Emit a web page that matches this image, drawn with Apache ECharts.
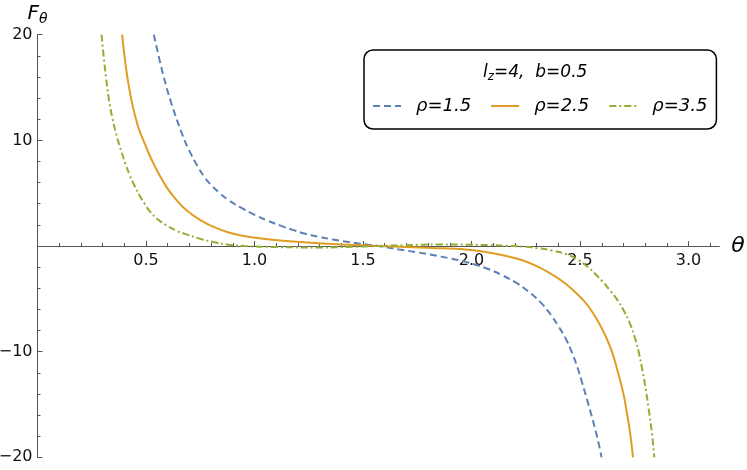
<!DOCTYPE html>
<html>
<head>
<meta charset="utf-8">
<script src="https://cdn.jsdelivr.net/npm/echarts@6/dist/echarts.min.js"></script>
<style>
  html, body { margin: 0; padding: 0; background: #fff; }
  #chart { width: 747px; height: 470px; }
</style>
</head>
<body>
<div id="chart"></div>
<script>
// values (theta, F_theta)
const theta15 = [0.536, 0.578, 0.617, 0.670, 0.700, 0.739, 0.770, 0.801, 0.840, 0.877, 0.940, 1.000, 1.060, 1.123, 1.180, 1.230, 1.300, 1.360, 1.440, 1.514, 1.571,
  1.667, 1.745, 1.820, 1.900, 1.973, 2.030, 2.080, 2.140, 2.203, 2.265, 2.326, 2.365, 2.402, 2.435, 2.463, 2.488, 2.509, 2.533, 2.555, 2.578, 2.599];
const f15 = [20, 16.3, 13.5, 10.4, 9.0, 7.5, 6.5, 5.75, 5.0, 4.4, 3.6, 2.95, 2.4, 1.9, 1.5, 1.18, 0.85, 0.62, 0.35, 0.15, 0,
  -0.33, -0.58, -0.85, -1.17, -1.5, -1.85, -2.2, -2.75, -3.45, -4.35, -5.5, -6.5, -7.65, -8.8, -10.1, -11.5, -12.9, -14.6, -16.2, -18.0, -20];

const theta25 = [0.390, 0.403, 0.417, 0.432, 0.450, 0.470, 0.486, 0.510, 0.532, 0.560, 0.594, 0.630, 0.670, 0.710, 0.747, 0.801, 0.877, 0.950, 1.031, 1.130, 1.230, 1.400, 1.571,
  1.820, 1.973, 2.080, 2.160, 2.234, 2.310, 2.387, 2.435, 2.479, 2.520, 2.555, 2.590, 2.617, 2.647, 2.678, 2.700, 2.716, 2.730, 2.744];
const f25 = [20, 17.6, 15.6, 13.9, 12.3, 10.9, 10.1, 8.9, 7.9, 6.8, 5.6, 4.6, 3.7, 3.0, 2.5, 1.9, 1.3, 0.95, 0.70, 0.50, 0.35, 0.15, 0,
  -0.18, -0.33, -0.62, -0.95, -1.35, -2.0, -2.9, -3.6, -4.4, -5.25, -6.2, -7.4, -8.5, -10.0, -12.2, -14.0, -15.8, -17.6, -20];

const theta35 = [0.295, 0.305, 0.316, 0.328, 0.345, 0.364, 0.387, 0.405, 0.425, 0.447, 0.471, 0.495, 0.517, 0.555, 0.594, 0.640, 0.686, 0.747, 0.816, 0.880, 0.954,
  1.100, 1.300, 1.450, 1.571, 1.700, 1.850, 2.000, 2.080, 2.190, 2.250, 2.310, 2.370, 2.433, 2.490, 2.540, 2.575, 2.601, 2.640, 2.670, 2.700, 2.730, 2.755,
  2.772, 2.785, 2.800, 2.816, 2.830, 2.842];
const f35 = [20, 17.9, 15.9, 14.0, 12.1, 10.5, 8.9, 7.8, 6.7, 5.7, 4.75, 3.95, 3.3, 2.5, 1.95, 1.45, 1.1, 0.7, 0.35, 0.12, 0,
  -0.1, -0.14, -0.08, 0, 0.08, 0.14, 0.12, 0.08, 0, -0.08, -0.22, -0.42, -0.75, -1.3, -2.05, -2.75, -3.3, -4.25, -5.05, -6.05, -7.35, -8.85,
  -10.2, -11.5, -13.2, -15.4, -17.5, -20];

const names = ["ρ=1.5", "ρ=2.5", "ρ=3.5"];
const xTicks = [0.5, 1.0, 1.5, 2.0, 2.5, 3.0];

const font = "DejaVu Sans";
const pairs = (xs, ys) => xs.map((x, i) => [x, ys[i]]);

const chart = echarts.init(document.getElementById("chart"));

const lineSeries = (i, xs, ys, color, type) => ({
  name: names[i],
  type: "line",
  xAxisIndex: 0,
  yAxisIndex: 0,
  data: pairs(xs, ys),
  symbol: "none",
  smooth: 0.4,
  clip: true,
  color: color,
  lineStyle: { width: 2, type: type, color: color }
});

const option = {
  animation: false,
  backgroundColor: "#fff",
  grid: [
    { left: 37.5, right: 27.7, top: 34.7, bottom: 12.7, outerBoundsMode: "none" },
    // helper grid whose bottom edge sits on F=0, carries the theta tick labels
    { left: 37.5, right: 27.7, top: 34.7, bottom: 224, outerBoundsMode: "none" }
  ],
  title: {
    text: "{i|l}{sub|z}{i|=4,  b=0.5}",
    left: 478,
    top: 58,
    textStyle: {
      rich: {
        i: { fontFamily: font, fontStyle: "italic", fontWeight: "normal", fontSize: 17, color: "#000" },
        sub: { fontFamily: font, fontStyle: "italic", fontWeight: "normal", fontSize: 12, color: "#000", padding: [8, 0, 0, 0] }
      }
    }
  },
  legend: {
    data: names,
    left: 364,
    top: 50,
    orient: "horizontal",
    padding: [45, 9, 12, 8],
    itemGap: 19,
    itemWidth: 28,
    itemHeight: 14,
    itemStyle: { opacity: 0 },
    borderColor: "#000",
    borderWidth: 1.5,
    borderRadius: 9,
    textStyle: {
      fontFamily: font,
      fontStyle: "italic",
      fontSize: 18,
      lineHeight: 22,
      color: "#000",
      padding: [0, 0, 0, 10]
    }
  },
  xAxis: [
    {
      type: "value",
      gridIndex: 0,
      min: 0,
      max: 3.1416,
      interval: 0.5,
      name: "θ",
      nameLocation: "end",
      nameGap: 12,
      nameTextStyle: { fontFamily: font, fontStyle: "italic", fontSize: 22, color: "#000" },
      axisLine: { onZero: true, lineStyle: { color: "#555", width: 1 } },
      axisTick: { show: true, inside: true, length: 5, customValues: xTicks, lineStyle: { color: "#555" } },
      minorTick: { show: true, splitNumber: 5, length: 3, lineStyle: { color: "#555" } },
      axisLabel: { show: false },
      splitLine: { show: false }
    },
    {
      type: "value",
      gridIndex: 1,
      min: 0,
      max: 3.1416,
      interval: 0.5,
      axisLine: { show: false, onZero: false },
      axisTick: { show: false },
      axisLabel: {
        customValues: xTicks,
        margin: 7,
        fontFamily: font,
        fontSize: 16,
        color: "#111",
        formatter: v => v.toFixed(1)
      },
      splitLine: { show: false }
    }
  ],
  yAxis: [
    {
      type: "value",
      gridIndex: 0,
      min: -20,
      max: 20,
      interval: 10,
      name: "{f|F}{s|θ}",
      nameLocation: "end",
      nameGap: 7,
      nameTextStyle: {
        rich: {
          f: { fontFamily: font, fontStyle: "italic", fontSize: 20, color: "#000" },
          s: { fontFamily: font, fontStyle: "italic", fontSize: 14, color: "#000", padding: [12, 0, 0, 0] }
        }
      },
      axisLine: { onZero: true, lineStyle: { color: "#555", width: 1 } },
      axisTick: { show: true, inside: true, length: 5, lineStyle: { color: "#555" } },
      minorTick: { show: true, splitNumber: 5, length: 3, lineStyle: { color: "#555" } },
      axisLabel: {
        margin: 5,
        fontFamily: font,
        fontSize: 16,
        color: "#111",
        formatter: v => (v === 0 ? "" : v < 0 ? "\u2212" + (-v) : String(v))
      },
      splitLine: { show: false }
    },
    { type: "value", gridIndex: 1, min: 0, max: 1, show: false }
  ],
  series: [
    lineSeries(0, theta15, f15, "#5E81B5", [7, 4]),
    lineSeries(1, theta25, f25, "#E19C24", "solid"),
    lineSeries(2, theta35, f35, "#8FB032", [7, 3, 2, 3])
  ]
};

chart.setOption(option);
window.addEventListener("resize", () => {
  chart.resize();
});
</script>
</body>
</html>
